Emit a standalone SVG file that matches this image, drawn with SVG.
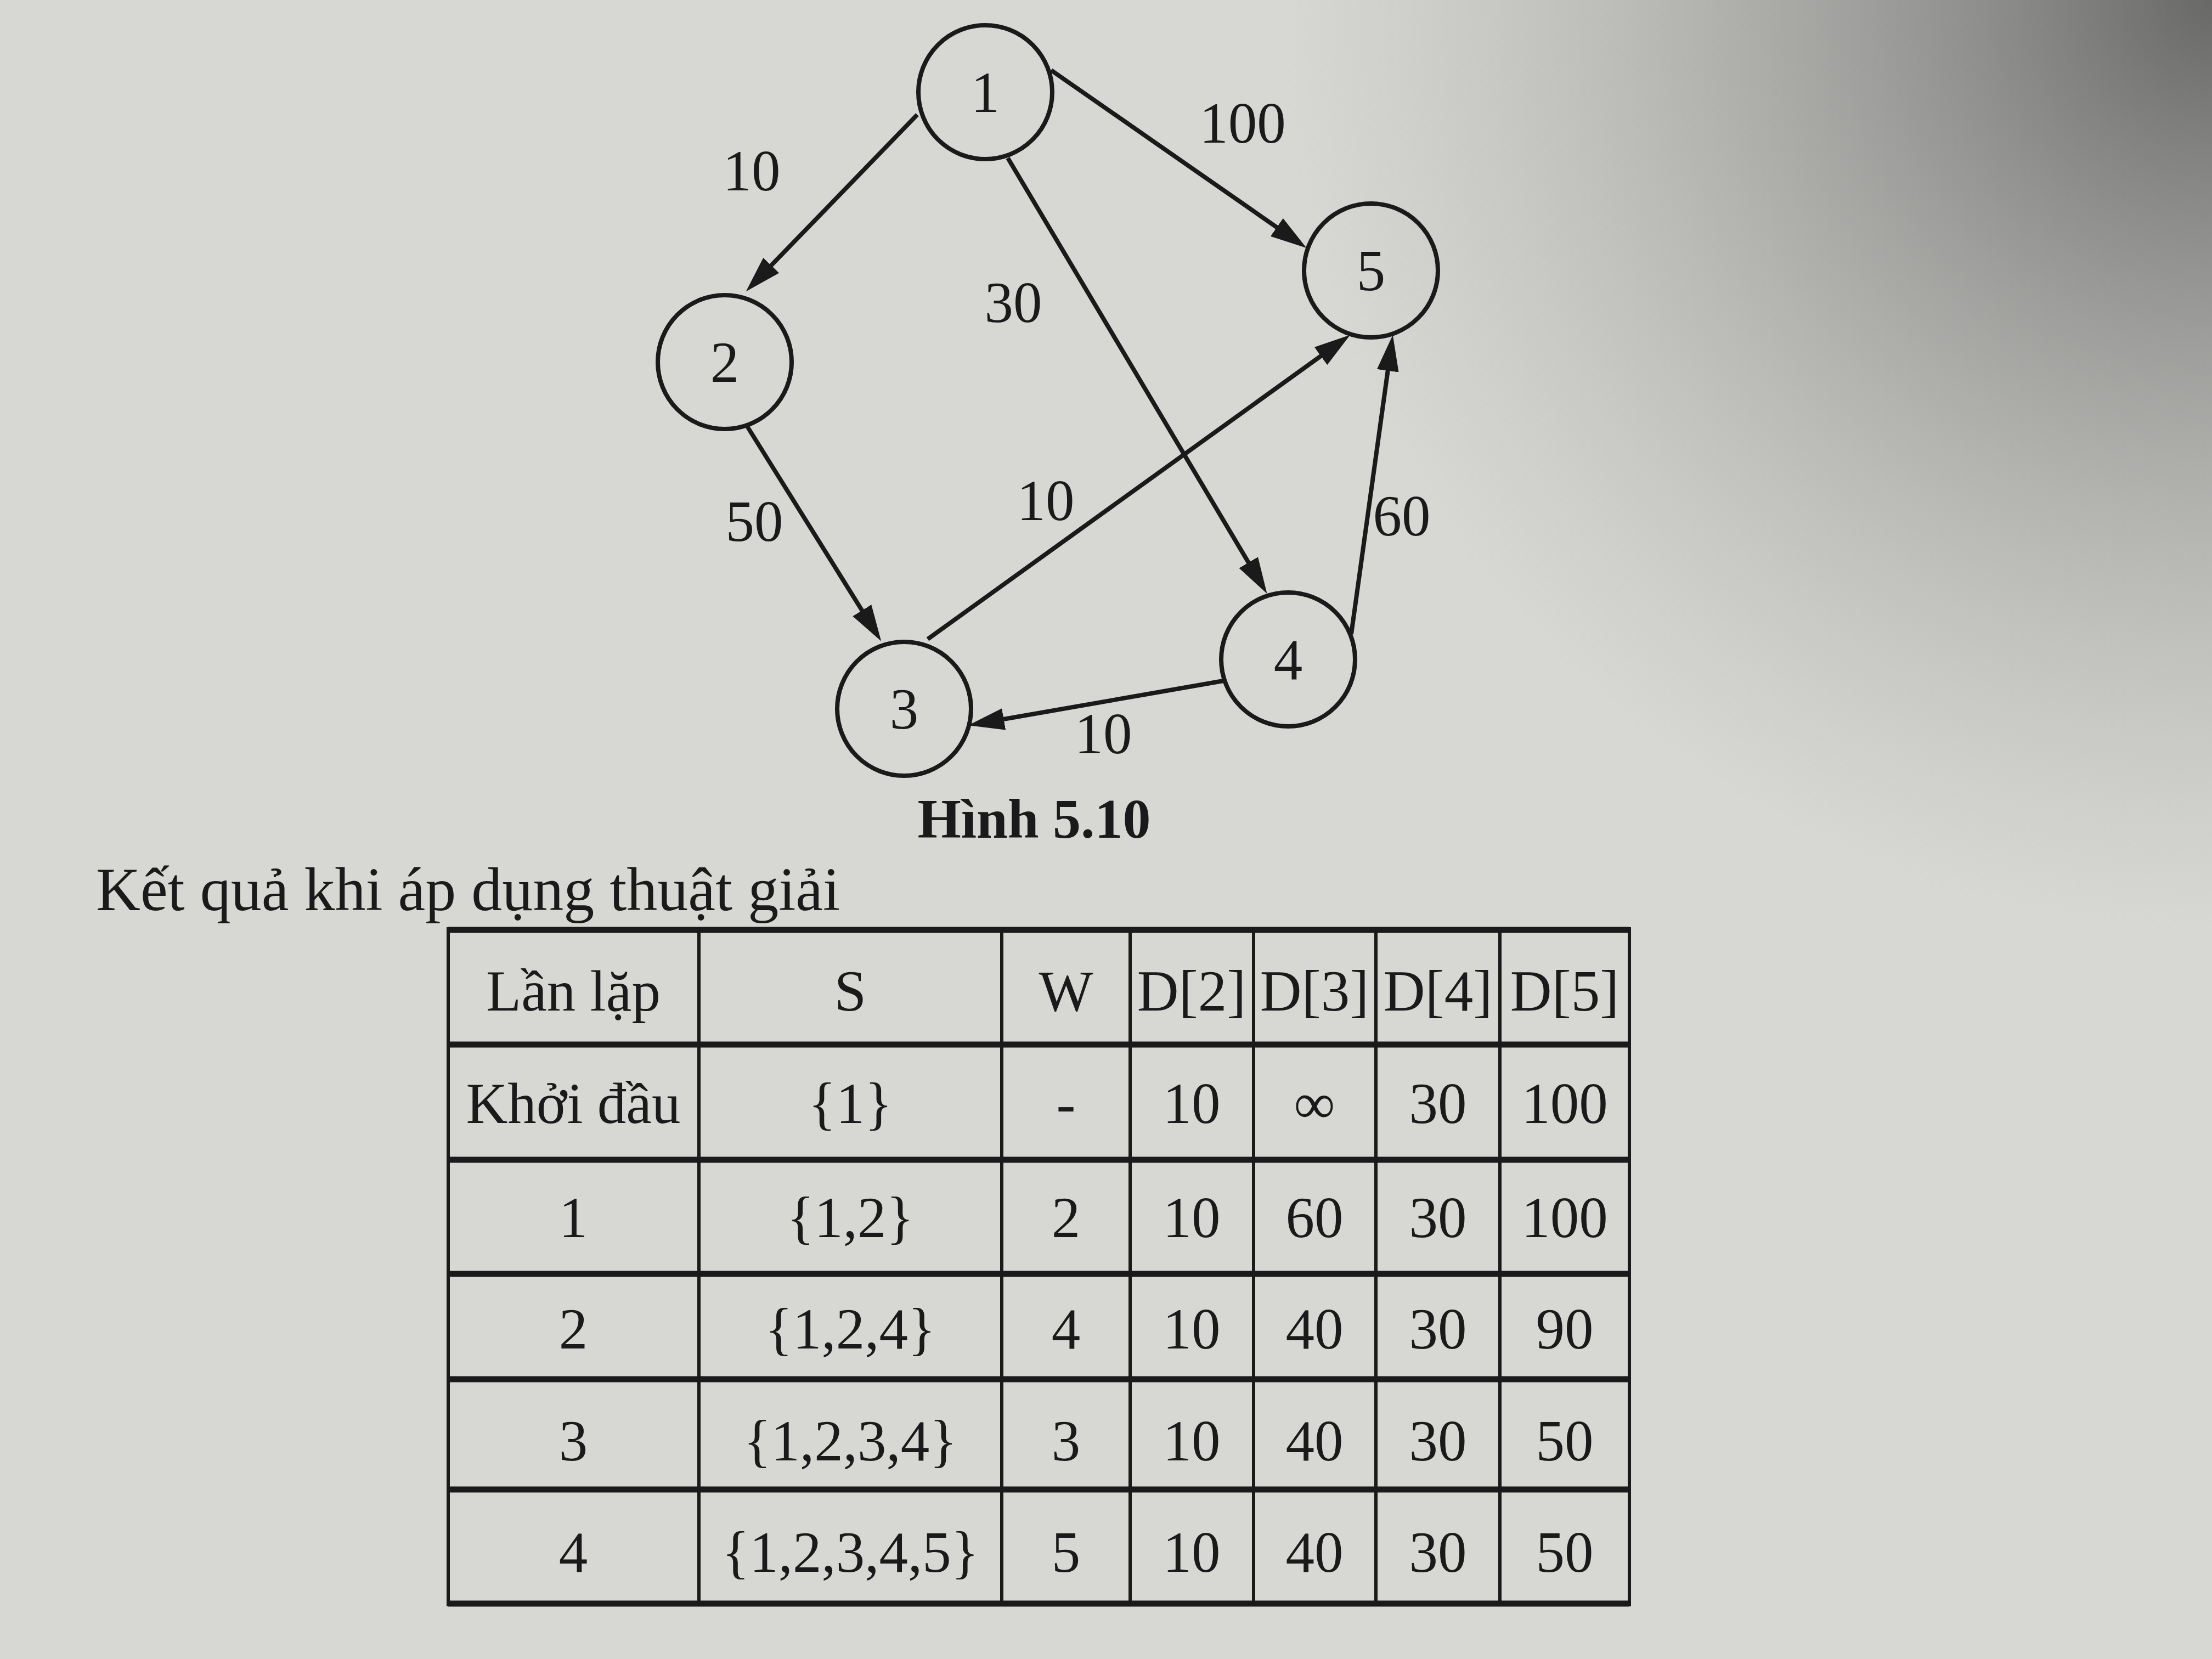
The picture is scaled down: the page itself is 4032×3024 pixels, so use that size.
<svg xmlns="http://www.w3.org/2000/svg" width="4032" height="3024" viewBox="0 0 4032 3024">
<defs>
<radialGradient id="shade" cx="4032" cy="0" r="1700" gradientUnits="userSpaceOnUse">
<stop offset="0" stop-color="#555555" stop-opacity="0.85"/>
<stop offset="0.5" stop-color="#7a7a78" stop-opacity="0.45"/>
<stop offset="1" stop-color="#9a9a98" stop-opacity="0"/>
</radialGradient>
<marker id="arr" viewBox="0 0 66 40" refX="24" refY="20" markerWidth="66" markerHeight="40" markerUnits="userSpaceOnUse" orient="auto">
<path d="M0,0 L66,20 L0,40 z" fill="#1a1a1a"/>
</marker>
<style>
.node circle{fill:none;stroke:#1a1a1a;stroke-width:8}
.t{font-family:"Liberation Serif","Times New Roman",serif;fill:#1a1a1a;text-anchor:middle}
.nl{font-size:105px}
.el{font-size:105px}
.edge{stroke:#1a1a1a;stroke-width:8;fill:none;marker-end:url(#arr)}
.hl{stroke:#1a1a1a;stroke-width:11}
.vl{stroke:#1a1a1a;stroke-width:6}
.tc{font-size:105px}
</style>
</defs>
<rect x="0" y="0" width="4032" height="3024" fill="#d7d7d4"/>
<rect x="0" y="0" width="4032" height="3024" fill="url(#shade)"/>

<g id="connectors">
<line class="edge" x1="1672" y1="209" x2="1389" y2="501"/>
<line class="edge" x1="1916" y1="128" x2="2347" y2="428"/>
<line class="edge" x1="1837" y1="288" x2="2288" y2="1046"/>
<line class="edge" x1="1360" y1="774" x2="1584" y2="1133"/>
<line class="edge" x1="1691" y1="1165" x2="2427" y2="635"/>
<line class="edge" x1="2463" y1="1156" x2="2533" y2="652"/>
<line class="edge" x1="2230" y1="1241" x2="1806" y2="1315"/>
<text class="t el" x="1370" y="347">10</text>
<text class="t el" x="2265" y="260">100</text>
<text class="t el" x="1847" y="587">30</text>
<text class="t el" x="1375" y="986">50</text>
<text class="t el" x="1906" y="948">10</text>
<text class="t el" x="2555" y="976">60</text>
<text class="t el" x="2011" y="1373">10</text>
</g>

<g id="node1" class="node"><circle cx="1796" cy="168" r="122"/><text class="t nl" x="1796" y="204">1</text></g>
<g id="node2" class="node"><circle cx="1321" cy="660" r="122"/><text class="t nl" x="1321" y="696">2</text></g>
<g id="node3" class="node"><circle cx="1648" cy="1292" r="122"/><text class="t nl" x="1648" y="1328">3</text></g>
<g id="node4" class="node"><circle cx="2348" cy="1202" r="122"/><text class="t nl" x="2348" y="1238">4</text></g>
<g id="node5" class="node"><circle cx="2499" cy="493" r="122"/><text class="t nl" x="2499" y="529">5</text></g>

<text class="t" x="1885" y="1527" font-size="102" font-weight="bold">Hình 5.10</text>
<text x="175" y="1659" font-family="'Liberation Serif','Times New Roman',serif" font-size="112" fill="#1a1a1a">Kết quả khi áp dụng thuật giải</text>

<g id="table">
<line class="hl" x1="817" y1="1695" x2="2970" y2="1695"/>
<line class="hl" x1="817" y1="1904" x2="2970" y2="1904"/>
<line class="hl" x1="817" y1="2114" x2="2970" y2="2114"/>
<line class="hl" x1="817" y1="2322" x2="2970" y2="2322"/>
<line class="hl" x1="817" y1="2514" x2="2970" y2="2514"/>
<line class="hl" x1="817" y1="2715" x2="2970" y2="2715"/>
<line class="hl" x1="817" y1="2923" x2="2970" y2="2923"/>
<line class="vl" x1="817" y1="1690" x2="817" y2="2928"/>
<line class="vl" x1="1274" y1="1690" x2="1274" y2="2928"/>
<line class="vl" x1="1826" y1="1690" x2="1826" y2="2928"/>
<line class="vl" x1="2060" y1="1690" x2="2060" y2="2928"/>
<line class="vl" x1="2285" y1="1690" x2="2285" y2="2928"/>
<line class="vl" x1="2508" y1="1690" x2="2508" y2="2928"/>
<line class="vl" x1="2734" y1="1690" x2="2734" y2="2928"/>
<line class="vl" x1="2970" y1="1690" x2="2970" y2="2928"/>

<g class="t tc">
<text x="1045" y="1842">Lần lặp</text><text x="1550" y="1842">S</text><text x="1943" y="1842">W</text><text x="2172" y="1842">D[2]</text><text x="2396" y="1842">D[3]</text><text x="2621" y="1842">D[4]</text><text x="2852" y="1842">D[5]</text>
<text x="1045" y="2047">Khởi đầu</text><text x="1550" y="2047">{1}</text><text x="1943" y="2047">-</text><text x="2172" y="2047">10</text><text x="2396" y="2047">∞</text><text x="2621" y="2047">30</text><text x="2852" y="2047">100</text>
<text x="1045" y="2255">1</text><text x="1550" y="2255">{1,2}</text><text x="1943" y="2255">2</text><text x="2172" y="2255">10</text><text x="2396" y="2255">60</text><text x="2621" y="2255">30</text><text x="2852" y="2255">100</text>
<text x="1045" y="2458">2</text><text x="1550" y="2458">{1,2,4}</text><text x="1943" y="2458">4</text><text x="2172" y="2458">10</text><text x="2396" y="2458">40</text><text x="2621" y="2458">30</text><text x="2852" y="2458">90</text>
<text x="1045" y="2662">3</text><text x="1550" y="2662">{1,2,3,4}</text><text x="1943" y="2662">3</text><text x="2172" y="2662">10</text><text x="2396" y="2662">40</text><text x="2621" y="2662">30</text><text x="2852" y="2662">50</text>
<text x="1045" y="2865">4</text><text x="1550" y="2865">{1,2,3,4,5}</text><text x="1943" y="2865">5</text><text x="2172" y="2865">10</text><text x="2396" y="2865">40</text><text x="2621" y="2865">30</text><text x="2852" y="2865">50</text>
</g>
</g>
</svg>
